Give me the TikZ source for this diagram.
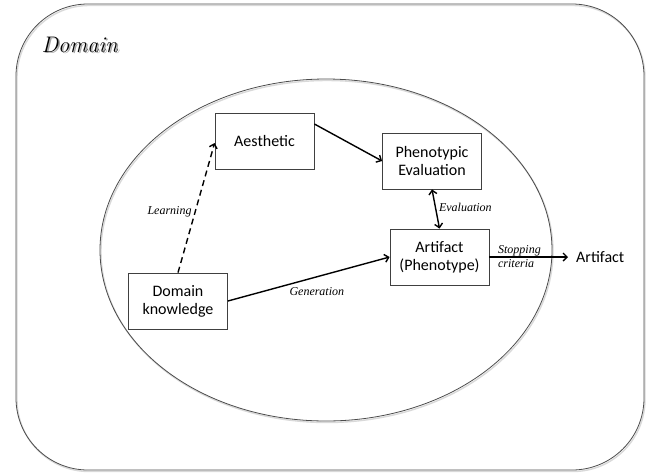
\documentclass[tikz,border=0pt]{standalone}
\usepackage{fontspec}
\newfontfamily\boxfont{Carlito}
\newfontfamily\labfont{Liberation Serif}
\usetikzlibrary{arrows.meta,calc}
\begin{document}
\begin{tikzpicture}[x=1pt,y=-1pt,
  box/.style={draw=black!75, line width=0.8pt, minimum width=99pt, minimum height=56pt,
    align=center, inner sep=2pt, font=\boxfont\fontsize{16}{18}\selectfont},
  lab/.style={font=\labfont\itshape\fontsize{12}{14}\selectfont, inner sep=1pt},
  conn/.style={line width=1.4pt, -{Straight Barb[length=4pt,width=8pt]}},
  frame/.style={draw=black!70, line width=0.8pt},
  shade/.style={draw=black!15, line width=1.4pt}]
\useasboundingbox (0,0) rectangle (653,475);
% frames
\draw[shade, rounded corners=72pt] (17,5.5) rectangle (645,471.5);
\draw[frame, rounded corners=72pt] (16,4) rectangle (644,470);
\draw[shade] (327,251.5) ellipse [x radius=226, y radius=171];
\draw[frame] (326,250) ellipse [x radius=226, y radius=171];
% title
\node[anchor=base west, text=black!35, font=\itshape\fontsize{22.5}{24}\selectfont] (titleshadow) at (39.5,53.5) {Domain};
\node[anchor=base west, font=\itshape\fontsize{22.5}{24}\selectfont] (title) at (38,52) {Domain};
% boxes
\node[box] (aes) at (264.5,141) {Aesthetic};
\node[box] (pe) at (432,161) {Phenotypic\\Evaluation};
\node[box] (art) at (439.5,257) {Artifact\\(Phenotype)};
\node[box] (dk) at (178,301) {Domain\\knowledge};
\node[anchor=west, inner sep=0pt, font=\boxfont\fontsize{16}{18}\selectfont] (out) at (576,257) {Artifact};
\coordinate (outtip) at (568,257);
% connectors
\draw[conn] ([yshift=17pt]aes.east) -- (pe.west);
\draw[conn, dashed, dash pattern=on 6pt off 4pt] (dk.north) -- ([yshift=-2pt]aes.west)
  node[lab, pos=0.47, anchor=east, xshift=-2pt] (lLearn) {Learning};
\draw[conn] (dk.east) -- (art.west)
  node[lab, pos=0.55, yshift=-15pt] (lGen) {Generation};
\draw[line width=1.4pt, {Straight Barb[length=4pt,width=8pt]}-{Straight Barb[length=4pt,width=8pt]}] (pe.south) -- (art.north)
  node[lab, pos=0.45, anchor=west, xshift=2pt] (lEval) {Evaluation};
\draw[conn] (art.east) -- (outtip)
  node[lab, pos=0, anchor=west, xshift=7pt, align=left] (lStop) {Stopping\\criteria};
\end{tikzpicture}
\end{document}
